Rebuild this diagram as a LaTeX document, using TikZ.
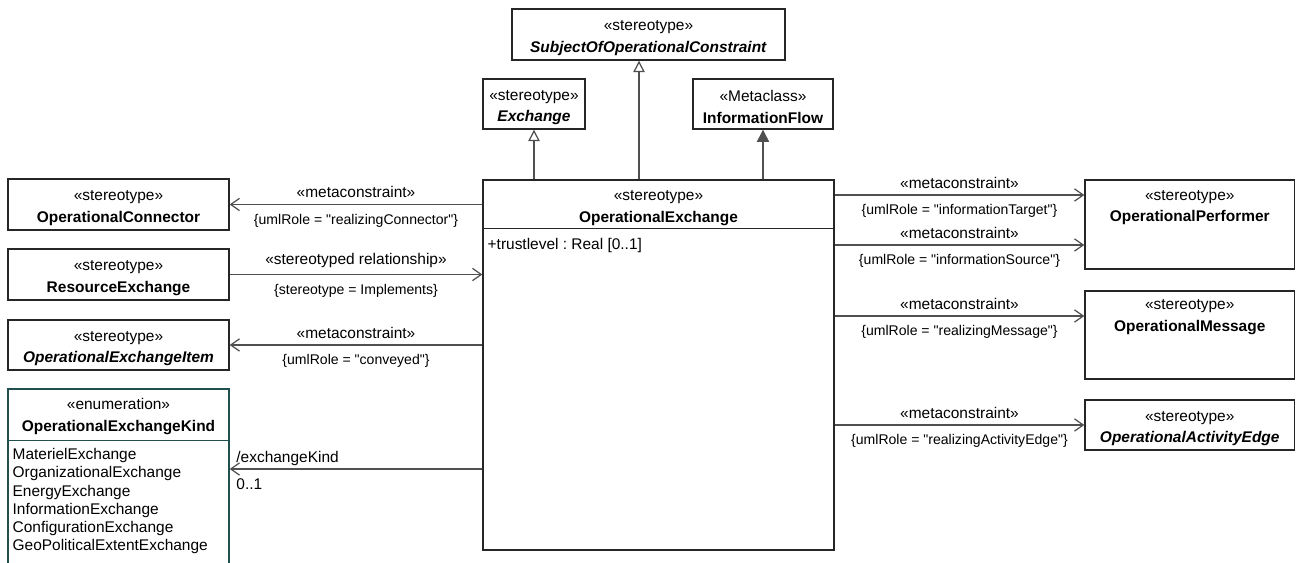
\documentclass[tikz,border=0pt]{standalone}
\usepackage{fontspec}
\setmainfont{Liberation Sans}
\usetikzlibrary{arrows.meta}
\frenchspacing

\definecolor{umlline}{HTML}{505050}
\definecolor{umlbox}{HTML}{262626}
\definecolor{enumline}{HTML}{1F4F4F}

\newcommand{\umlst}[1]{\rule{0pt}{10pt}«#1»}
\newcommand{\qq}[1]{\textquotedbl#1\textquotedbl}

\begin{document}
\begin{tikzpicture}[x=0.02cm, y=-0.02cm,
  cls/.style={rectangle, draw=umlbox, line width=0.8pt, minimum width=4.42cm,
              minimum height=1.02cm, align=center, inner sep=0pt,
              font=\fontsize{8.8}{12.3}\selectfont},
  hdr/.style={align=center, inner sep=0pt, font=\fontsize{8.8}{12.3}\selectfont},
  lbl/.style={font=\fontsize{8.8}{10}\selectfont, inner sep=1pt},
  cns/.style={font=\fontsize{8}{9.6}\selectfont, inner sep=1pt},
  assoc/.style={draw=umlline, line width=0.7pt, -{Straight Barb[length=5pt, width=7pt]}},
  gen/.style={draw=umlline, line width=0.7pt, -{Triangle[open, length=6.5pt, width=6.5pt]}},
  real/.style={draw=umlline, line width=0.7pt, -{Triangle[length=7pt, width=7pt]}}
]
\clip (0,0) rectangle (1296,563);
\fill[white] (0,0) rectangle (1296,563);

%% Parents
\node[cls, minimum width=5.46cm] at (648.5,34.5) (subj)
  {\umlst{stereotype}\\\textbf{\textit{SubjectOfOperationalConstraint}}};
\node[cls, minimum width=2.04cm, minimum height=1.0cm] at (534,104) (exch)
  {\umlst{stereotype}\\\textbf{\textit{Exchange}}};
\node[cls, minimum width=2.8cm, minimum height=1.0cm] at (763,104) (infl)
  {\umlst{Metaclass}\\\textbf{InformationFlow}};

%% Central class
\node[cls, minimum width=7.02cm, minimum height=7.4cm] at (658.5,365) (oe) {};
\node[hdr] at ([yshift=-0.5cm]oe.north) (oehdr) {\umlst{stereotype}\\\textbf{OperationalExchange}};
\draw[draw=umlbox, line width=0.8pt] ([yshift=-0.98cm]oe.north west) -- ([yshift=-0.98cm]oe.north east);
\node[hdr, anchor=west] at ([xshift=0.1cm, yshift=-1.32cm]oe.north west) (attr)
  {+trustlevel : Real [0..1]};

%% Left side
\node[cls] at (118.5,204.5) (conn) {\umlst{stereotype}\\\textbf{OperationalConnector}};
\node[cls] at (118.5,274.5) (res)  {\umlst{stereotype}\\\textbf{ResourceExchange}};
\node[cls, minimum height=1.0cm] at (118.5,345) (item)
  {\umlst{stereotype}\\\textbf{\textit{OperationalExchangeItem}}};
\node[cls, draw=enumline, minimum height=3.62cm] at (118.5,479.5) (kind) {};
\node[hdr] at ([yshift=-0.5cm]kind.north) (kindhdr) {\umlst{enumeration}\\\textbf{OperationalExchangeKind}};
\draw[draw=enumline, line width=0.8pt] ([yshift=-1.04cm]kind.north west) -- ([yshift=-1.04cm]kind.north east);
\node[hdr, align=left, anchor=north west, font=\fontsize{8.8}{10.3}\selectfont]
  at ([xshift=0.1cm, yshift=-1.2cm]kind.north west) (lits)
  {MaterielExchange\\OrganizationalExchange\\EnergyExchange\\InformationExchange\\ConfigurationExchange\\GeoPoliticalExtentExchange};

%% Right side
\node[cls, minimum width=4.19cm, minimum height=1.78cm] at (1189.75,224.5) (perf) {};
\node[hdr] at ([yshift=-0.49cm]perf.north) (perfhdr) {\umlst{stereotype}\\\textbf{OperationalPerformer}};
\node[cls, minimum width=4.19cm, minimum height=1.76cm] at (1189.75,335) (msg) {};
\node[hdr] at ([yshift=-0.46cm]msg.north) (msghdr) {\umlst{stereotype}\\\textbf{OperationalMessage}};
\node[cls, minimum width=4.19cm, minimum height=1.0cm] at (1189.75,425) (edge)
  {\umlst{stereotype}\\\textbf{\textit{OperationalActivityEdge}}};

\coordinate (kindIn) at ([yshift=0.21cm]kind.east);
\coordinate (tgtIn)  at ([yshift=0.59cm]perf.west);
\coordinate (srcIn)  at ([yshift=-0.41cm]perf.west);
\coordinate (msgIn)  at ([yshift=0.38cm]msg.west);

%% Generalizations
\draw[gen]  (oe.north -| exch.south) -- (exch.south);
\draw[gen]  ([xshift=-0.39cm]oe.north) -- ([xshift=-0.39cm]oe.north |- subj.south);
\draw[real] (oe.north -| infl.south) -- (infl.south);

%% Associations
\draw[assoc] (oe.west |- conn.east) -- node[lbl, above=2.5pt]{«metaconstraint»}
  node[cns, below=4pt]{\{umlRole = \qq{realizingConnector}\}} (conn.east);
\draw[assoc] (res.east) -- node[lbl, above=2.5pt]{«stereotyped relationship»}
  node[cns, below=4pt]{\{stereotype = Implements\}} (oe.west |- res.east);
\draw[assoc] (oe.west |- item.east) -- node[lbl, above=2.5pt]{«metaconstraint»}
  node[cns, below=4pt]{\{umlRole = \qq{conveyed}\}} (item.east);
\draw[assoc] (oe.west |- kindIn) -- (kindIn)
  node[hdr, pos=1, anchor=south west, xshift=3.5pt, yshift=1.5pt]{/exchangeKind}
  node[hdr, pos=1, anchor=north west, xshift=3.5pt, yshift=-5pt]{0..1};
\draw[assoc] (oe.east |- tgtIn) -- node[lbl, above=2.5pt]{«metaconstraint»}
  node[cns, below=4pt]{\{umlRole = \qq{informationTarget}\}} (tgtIn);
\draw[assoc] (oe.east |- srcIn) -- node[lbl, above=2.5pt]{«metaconstraint»}
  node[cns, below=4pt]{\{umlRole = \qq{informationSource}\}} (srcIn);
\draw[assoc] (oe.east |- msgIn) -- node[lbl, above=2.5pt]{«metaconstraint»}
  node[cns, below=4pt]{\{umlRole = \qq{realizingMessage}\}} (msgIn);
\draw[assoc] (oe.east |- edge.west) -- node[lbl, above=2.5pt]{«metaconstraint»}
  node[cns, below=4pt]{\{umlRole = \qq{realizingActivityEdge}\}} (edge.west);
\end{tikzpicture}
\end{document}
